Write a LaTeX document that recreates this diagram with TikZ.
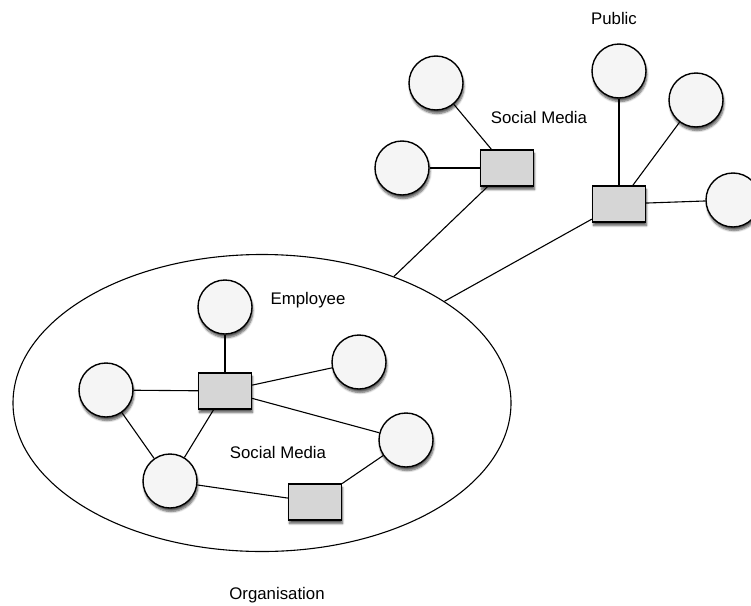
\documentclass[tikz,border=0pt]{standalone}
\usepackage{fontspec}
\setmainfont{Liberation Sans}
\usetikzlibrary{shadows,shadows.blur}
\usetikzlibrary{shapes.geometric}
\tikzstyle{person}=[circle,fill=black!4,draw,line width=1.4pt,minimum size=54pt,inner sep=0pt,blur shadow={shadow xshift=1pt,shadow yshift=-3.5pt,shadow blur steps=6,shadow opacity=65}]
\tikzstyle{media}=[rectangle,fill=black!16,draw,line width=1.4pt,minimum width=53pt,minimum height=36pt,inner sep=0pt,blur shadow={shadow xshift=1pt,shadow yshift=-3.5pt,shadow blur steps=6,shadow opacity=65}]
\tikzstyle{link} = [draw,line width=1.1pt]
\tikzstyle{grouptext} = [font=\fontsize{16.8}{20}\selectfont]

\begin{document}
\begin{tikzpicture}[x=1pt,y=-1pt]

    \clip (0,0) rectangle (751,605);
    \node[ellipse,draw,line width=1.1pt,minimum width=498pt,minimum height=297pt,inner sep=0pt] (org) at (262,403) {};

    % people and media channels
    \foreach \pos/ \name in {{(436,83)/a1}, {(402,168)/a2}, {(619,71)/b1}, {(696,100)/b2}, {(733,200)/b3},
        {(225,307)/e1}, {(106,390)/e2}, {(359,362)/e3}, {(406,440)/e4}, {(170,481)/e5}}
        \node[person] (\name) at \pos {};
    \foreach \pos/ \name in {{(507,168)/sa}, {(619,204)/sb}, {(225,391)/se}, {(315,502)/sf}}
        \node[media] (\name) at \pos {};

    % connect them
    \foreach \source/ \dest in {a1/sa, a2/sa, sa/org, b1/sb, b2/sb, b3/sb, sb/org,
        e1/se, e2/se, e3/se, e4/se, e5/se, e2/e5, e5/sf, sf/e4}
        \path[link] (\source) -- (\dest);

    \node[grouptext] (public) at (614,18) {Public};
    \node[grouptext] (outermedia) at (539,117) {Social Media};
    \node[grouptext] (employee) at (308,300) {Employee};
    \node[grouptext] (innermedia) at (278,452) {Social Media};
    \node[grouptext] (organisation) at (277,595) {Organisation};

\end{tikzpicture}
\end{document}
